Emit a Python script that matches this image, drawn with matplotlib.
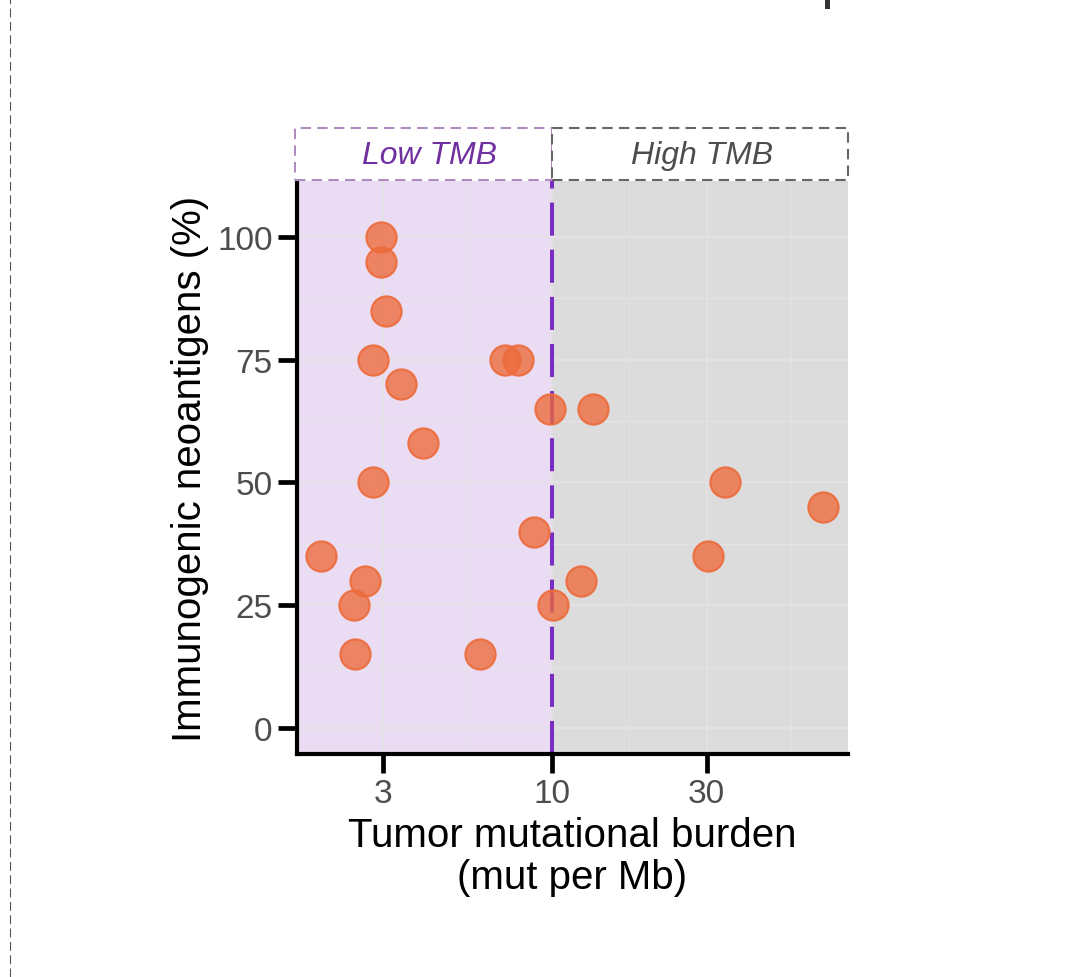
import matplotlib
matplotlib.use("Agg")
import matplotlib.pyplot as plt
from matplotlib.patches import Rectangle
from matplotlib.lines import Line2D
import numpy as np

plt.rcParams['font.family'] = ['Liberation Sans', 'DejaVu Sans']

# Data
tmb = [2.97, 2.97, 3.07, 2.80, 3.42, 4.0, 2.80, 1.94, 2.65, 2.45, 2.46, 6.0,
       7.17, 7.85, 9.86, 8.8, 10.07, 13.35, 34.1, 68.5, 30.3, 12.26]
neo = [100, 95, 85, 75, 70, 58, 50, 35, 30, 25, 15, 15,
       75, 75, 65, 40, 25, 65, 50, 45, 35, 30]
x_ticks = [3, 10, 30]
y_ticks = [0, 25, 50, 75, 100]
threshold = 10
strip_labels = ["Low TMB", "High TMB"]

W, H = 1067, 978
fig = plt.figure(figsize=(W / 100, H / 100), dpi=100)
ax = fig.add_axes([297 / W, 1 - 755 / H, (848 - 297) / W, (755 - 182) / H])

xmin, xmax = 1.63, 82
ymin, ymax = -5.3, 111.4
ax.set_xscale('log')
ax.set_xlim(xmin, xmax)
ax.set_ylim(ymin, ymax)

# background regions
ax.axvspan(xmin, threshold, color='#EADCF3', zorder=0, lw=0)
ax.axvspan(threshold, xmax, color='#DCDCDC', zorder=0, lw=0)

# grid lines
minor_x = [np.sqrt(3 * 10), np.sqrt(10 * 30), np.sqrt(30 * 100)]
for xv in x_ticks:
    ax.axvline(xv, color='#E2E0E4', lw=1.3, zorder=1)
for xv in minor_x:
    ax.axvline(xv, color='#E4E2E6', lw=0.7, zorder=1)
for yv in y_ticks:
    ax.axhline(yv, color='#E4E2E6', lw=1.3, zorder=1)
for yv in [12.5, 37.5, 62.5, 87.5]:
    ax.axhline(yv, color='#E6E4E8', lw=0.7, zorder=1)

ax.axvline(threshold, color='#7B2CC4', lw=2.9, ls=(0, (8.2, 3.5)), zorder=2)

ax.scatter(tmb, neo, s=470, facecolor=(0.93, 0.42, 0.23, 0.78),
           edgecolor=(0.93, 0.42, 0.23, 0.9), linewidth=1.6, zorder=3)

ax.set_xticks(x_ticks)
ax.set_xticklabels([str(v) for v in x_ticks])
ax.xaxis.set_minor_locator(matplotlib.ticker.NullLocator())
ax.set_yticks(y_ticks)
ax.tick_params(axis='both', direction='out', length=14, width=3.4, color='black',
               labelsize=24, labelcolor='#4D4D4D', pad=3.5)

for s in ['top', 'right']:
    ax.spines[s].set_visible(False)
for s in ['left', 'bottom']:
    ax.spines[s].set_linewidth(3)
    ax.spines[s].set_color('black')
    ax.spines[s].set_capstyle('projecting')

ax.set_xlabel("Tumor mutational burden\n(mut per Mb)", fontsize=29, color='black',
              labelpad=5, linespacing=1.12)
ax.set_ylabel("Immunogenic neoantigens (%)", fontsize=29, color='black', labelpad=6)

# strips
def fx(px):
    return px / W

def fy(py):
    return 1 - py / H

strip_top, strip_bot = 129, 181
fig.patches.append(Rectangle((fx(295), fy(strip_bot)), fx(552) - fx(295), fy(strip_top) - fy(strip_bot),
                             transform=fig.transFigure, facecolor='white', edgecolor='#AE8CC0',
                             lw=1.5, ls=(0, (5, 3)), zorder=5))
fig.patches.append(Rectangle((fx(552), fy(strip_bot)), fx(848) - fx(552), fy(strip_top) - fy(strip_bot),
                             transform=fig.transFigure, facecolor='white', edgecolor='#666666',
                             lw=1.5, ls=(0, (5, 3)), zorder=5))
fig.text(fx(430), fy(156), strip_labels[0], fontsize=23, style='italic', color='#7030A0',
         ha='center', va='center', zorder=6)
fig.text(fx(702), fy(156), strip_labels[1], fontsize=23, style='italic', color='#4D4D4D',
         ha='center', va='center', zorder=6)

# page artifacts
fig.add_artist(Line2D([fx(10), fx(10)], [0, 1], transform=fig.transFigure,
                      color='#555555', lw=0.8, ls=(0, (8, 4))))
fig.patches.append(Rectangle((fx(825), fy(10)), fx(830) - fx(825), fy(0) - fy(10),
                             transform=fig.transFigure, facecolor='#333333', edgecolor='none'))

fig.savefig("out.png", dpi=100)
